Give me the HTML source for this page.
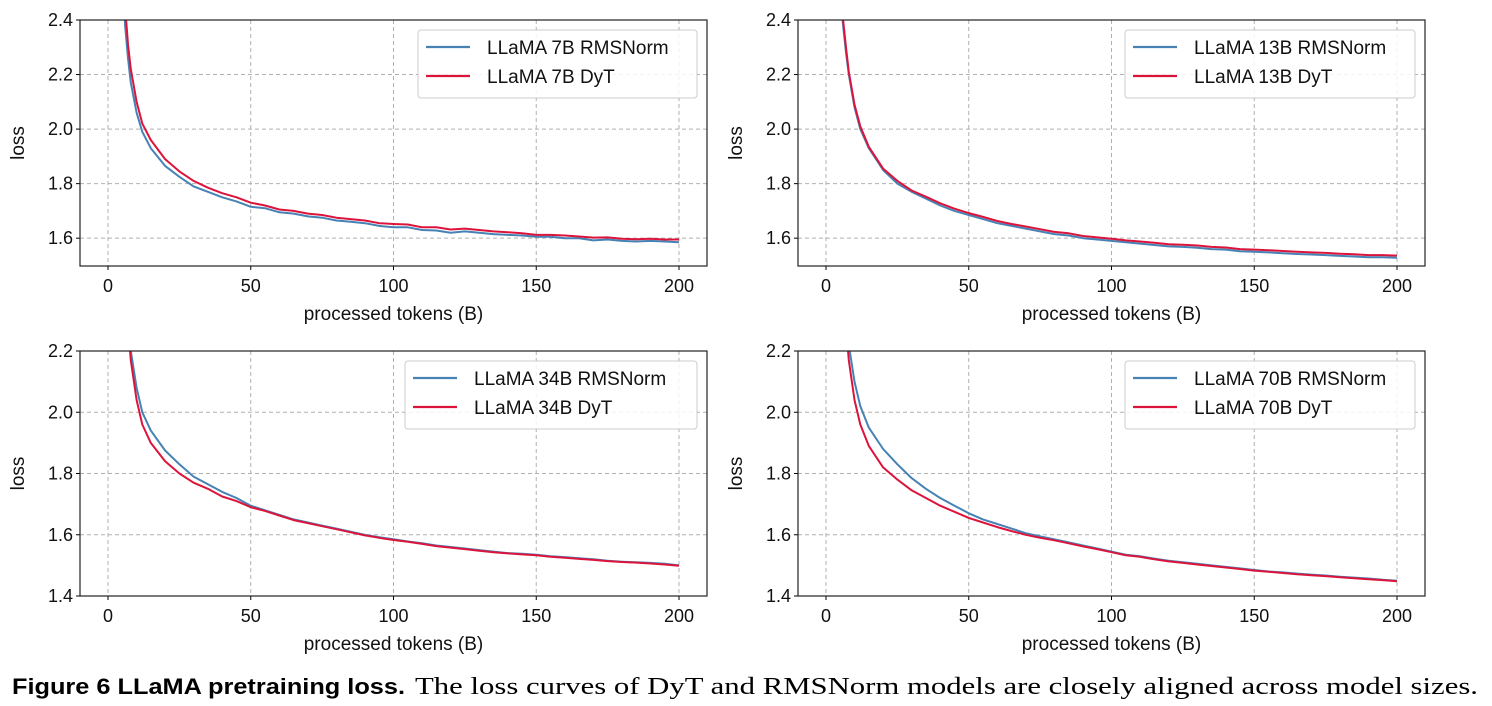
<!DOCTYPE html>
<html><head><meta charset="utf-8"><style>
body{margin:0;background:#fff;}
svg{display:block;font-family:"Liberation Sans",sans-serif;}
</style></head><body>
<svg id="fig" width="1492" height="706" viewBox="0 0 1492 706" xmlns="http://www.w3.org/2000/svg">
<text x="12" y="694" font-size="22" font-weight="bold" font-family="Liberation Sans,sans-serif" textLength="393" lengthAdjust="spacingAndGlyphs">Figure 6  LLaMA pretraining loss.</text>
<text x="415" y="694" font-size="24" font-family="Liberation Serif,serif" textLength="1063" lengthAdjust="spacingAndGlyphs">The loss curves of DyT and RMSNorm models are closely aligned across model sizes.</text>
</svg>
<script>
const xs=[5,6,7,8,10,12,15,20,25,30,35,40,45,50,55,60,65,70,75,80,85,90,95,100,105,110,115,120,125,130,135,140,145,150,155,160,165,170,175,180,185,190,195,200];
const rms7=[2.55,2.38,2.26,2.17,2.06,1.99,1.93,1.865,1.825,1.79,1.77,1.75,1.735,1.715,1.71,1.695,1.69,1.68,1.675,1.665,1.66,1.655,1.645,1.64,1.64,1.63,1.628,1.62,1.625,1.62,1.615,1.612,1.61,1.605,1.605,1.60,1.60,1.592,1.595,1.59,1.588,1.59,1.588,1.585];
const dyt7=[2.6,2.45,2.31,2.22,2.1,2.02,1.96,1.89,1.845,1.81,1.785,1.765,1.75,1.73,1.72,1.705,1.70,1.69,1.685,1.675,1.67,1.665,1.655,1.652,1.65,1.64,1.64,1.632,1.635,1.63,1.625,1.622,1.618,1.612,1.612,1.61,1.606,1.602,1.603,1.598,1.596,1.598,1.595,1.595];
const rms13=[2.5,2.38,2.28,2.2,2.08,2.0,1.93,1.85,1.80,1.77,1.745,1.72,1.70,1.685,1.67,1.655,1.645,1.635,1.625,1.615,1.61,1.6,1.595,1.59,1.585,1.58,1.575,1.57,1.568,1.565,1.56,1.558,1.552,1.55,1.548,1.545,1.542,1.54,1.538,1.535,1.533,1.53,1.53,1.528];
const dyt13=[2.52,2.4,2.3,2.21,2.09,2.01,1.935,1.855,1.81,1.775,1.752,1.728,1.708,1.692,1.678,1.663,1.652,1.643,1.633,1.623,1.618,1.608,1.603,1.598,1.592,1.588,1.583,1.578,1.576,1.573,1.568,1.566,1.56,1.558,1.556,1.553,1.55,1.548,1.546,1.543,1.541,1.538,1.538,1.536];
const rms34=[2.6,2.45,2.32,2.2,2.08,2.0,1.94,1.875,1.83,1.79,1.765,1.74,1.72,1.695,1.68,1.665,1.65,1.64,1.63,1.62,1.61,1.6,1.592,1.585,1.578,1.572,1.565,1.56,1.555,1.55,1.545,1.54,1.538,1.535,1.53,1.527,1.523,1.52,1.515,1.512,1.51,1.508,1.505,1.5];
const dyt34=[2.55,2.4,2.28,2.17,2.04,1.96,1.9,1.84,1.8,1.77,1.75,1.725,1.71,1.69,1.678,1.663,1.648,1.638,1.628,1.618,1.608,1.598,1.59,1.583,1.577,1.57,1.563,1.558,1.553,1.548,1.543,1.539,1.536,1.533,1.528,1.525,1.521,1.518,1.514,1.511,1.509,1.506,1.503,1.499];
const rms70=[2.6,2.45,2.33,2.22,2.1,2.02,1.95,1.88,1.83,1.785,1.75,1.72,1.695,1.67,1.65,1.635,1.62,1.605,1.595,1.585,1.575,1.565,1.555,1.545,1.535,1.53,1.522,1.515,1.51,1.505,1.5,1.495,1.49,1.485,1.48,1.477,1.473,1.47,1.467,1.463,1.46,1.457,1.453,1.45];
const dyt70=[2.55,2.4,2.28,2.17,2.04,1.96,1.89,1.82,1.78,1.745,1.72,1.695,1.675,1.655,1.64,1.625,1.612,1.6,1.59,1.582,1.572,1.562,1.553,1.543,1.533,1.528,1.52,1.513,1.508,1.503,1.498,1.493,1.488,1.483,1.479,1.475,1.471,1.468,1.465,1.461,1.458,1.455,1.452,1.448];
const xTicks=[0,50,100,150,200];
const yTicksTop=[1.6,1.8,2.0,2.2,2.4];
const yTicksBot=[1.4,1.6,1.8,2.0,2.2];
const panels=[
 {name:'7b',L:80,R:707,T:20,B:266,ymin:1.498,ymax:2.4,ticks:yTicksTop,rms:rms7,dyt:dyt7,label:'7B',legX:418,legY:30},
 {name:'13b',L:798,R:1425,T:20,B:266,ymin:1.498,ymax:2.4,ticks:yTicksTop,rms:rms13,dyt:dyt13,label:'13B',legX:1125,legY:30},
 {name:'34b',L:80,R:707,T:351,B:596,ymin:1.4,ymax:2.2,ticks:yTicksBot,rms:rms34,dyt:dyt34,label:'34B',legX:405,legY:361},
 {name:'70b',L:798,R:1425,T:351,B:596,ymin:1.4,ymax:2.2,ticks:yTicksBot,rms:rms70,dyt:dyt70,label:'70B',legX:1125,legY:361}
];
const NS='http://www.w3.org/2000/svg';
const svg=document.getElementById('fig');
function mk(tag,attrs,parent){const e=document.createElementNS(NS,tag);for(const k in attrs)e.setAttribute(k,attrs[k]);(parent||svg).appendChild(e);return e;}
panels.forEach((p,i)=>{
 const g=mk('g',{});
 
 
 const x0=p.L+28, x200=p.R-28;
 const sx=v=>x0+(v/200)*(x200-x0);
 const sy=v=>p.B-(v-p.ymin)/(p.ymax-p.ymin)*(p.B-p.T);
 const cp=mk('clipPath',{id:'clip'+i},g);
 mk('rect',{x:p.L,y:p.T,width:p.R-p.L,height:p.B-p.T},cp);
 xTicks.forEach(t=>{
  const l=mk('line',{x1:sx(t),x2:sx(t),y1:p.T,y2:p.B,stroke:'#b0b0b0','stroke-dasharray':'4,3','stroke-width':1},g);
  
  
  mk('line',{x1:sx(t),x2:sx(t),y1:p.B,y2:p.B+4,stroke:'#000'},g);
  const tx=mk('text',{x:sx(t),y:p.B+26,'font-size':18,'text-anchor':'middle',fill:'#111'},g);
  tx.textContent=t;
  
  
 });
 p.ticks.forEach(t=>{
  const y=sy(t);
  const l=mk('line',{x1:p.L,x2:p.R,y1:y,y2:y,stroke:'#b0b0b0','stroke-dasharray':'4,3','stroke-width':1},g);
  
  
  mk('line',{x1:p.L-4,x2:p.L,y1:y,y2:y,stroke:'#000'},g);
  const tx=mk('text',{x:p.L-7,y:y+6,'font-size':18,'text-anchor':'end',fill:'#111'},g);
  tx.textContent=t.toFixed(1);
  
  
 });
 [['rms',p.rms,'#4682b4'],['dyt',p.dyt,'#dc143c']].forEach(([n,arr,c])=>{
  const d=arr.map((v,k)=>(k?'L':'M')+sx(xs[k]).toFixed(1)+','+sy(v).toFixed(1)).join('');
  const path=mk('path',{d:d,fill:'none',stroke:c,'stroke-width':2,'clip-path':'url(#clip'+i+')','stroke-linejoin':'round'},g);
  
  
 });
 const fr=mk('rect',{x:p.L,y:p.T,width:p.R-p.L,height:p.B-p.T,fill:'none',stroke:'#222','stroke-width':1.2},g);
 
 
 const xl=mk('text',{x:(p.L+p.R)/2,y:p.B+54,'font-size':19,'text-anchor':'middle',fill:'#111'},g);
 xl.textContent='processed tokens (B)';
 
 
 const cy=(p.T+p.B)/2;
 const yl=mk('text',{x:p.L-56,y:cy,'font-size':19,'text-anchor':'middle',fill:'#111',transform:'rotate(-90 '+(p.L-56)+' '+cy+')'},g);
 yl.textContent='loss';
 
 
 const lg=mk('g',{},g);
 
 
 mk('rect',{x:p.legX,y:p.legY,width:(p.R-10)-p.legX,height:68,rx:3,fill:'#fff','fill-opacity':0.85,stroke:'#ccc'},lg);
 [['RMSNorm','#4682b4',17],['DyT','#dc143c',46]].forEach(([n,c,dy])=>{
  const y=p.legY+dy;
  mk('line',{x1:p.legX+8,x2:p.legX+52,y1:y,y2:y,stroke:c,'stroke-width':2.2},lg);
  const t=mk('text',{x:p.legX+69,y:y+7,'font-size':19,fill:'#111'},lg);
  t.textContent='LLaMA '+p.label+' '+n;
  
  
 });
});
</script>
</body></html>
